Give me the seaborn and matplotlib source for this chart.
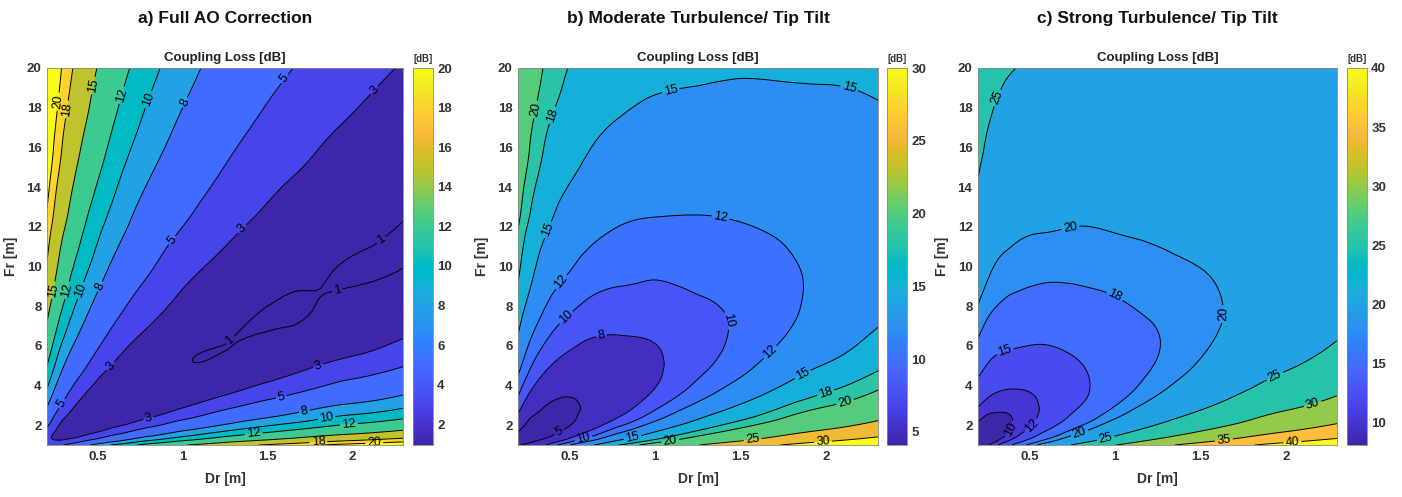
import numpy as np
import matplotlib
matplotlib.use("Agg")
import matplotlib.pyplot as plt
import matplotlib.tri as mtri
import seaborn as sns
from matplotlib.colors import LinearSegmentedColormap, Normalize
from matplotlib.cm import ScalarMappable

# ---------------- data ----------------
DR = [0.2, 0.25, 0.3, 0.4, 0.5, 0.6, 0.8, 1.0, 1.25, 1.5, 1.75, 2.0, 2.3]
FR = [1, 1.25, 1.5, 2, 2.5, 3, 4, 5, 6, 8, 10, 12, 14, 16, 18, 20]

# rows follow FR, columns follow DR (coupling loss in dB)
LOSS_A = [
    [4.2, 4.4, 5.0, 6.9, 8.8, 10.3, 12.8, 14.8, 16.7, 18.3, 19.6, 20.8, 22.0],
    [3.5, 3.0, 3.1, 4.2, 5.7, 7.2, 9.7, 11.6, 13.6, 15.1, 16.5, 17.7, 18.9],
    [3.8, 2.7, 2.4, 2.7, 3.8, 5.1, 7.5, 9.4, 11.4, 12.9, 14.3, 15.4, 16.7],
    [5.4, 3.6, 2.4, 1.8, 1.9, 2.6, 4.4, 6.3, 8.2, 9.8, 11.1, 12.3, 13.5],
    [7.0, 4.8, 3.4, 1.9, 1.5, 1.5, 2.6, 4.1, 6.0, 7.5, 8.9, 10.1, 11.3],
    [8.2, 6.1, 4.5, 2.5, 1.6, 1.3, 1.6, 2.7, 4.3, 5.8, 7.2, 8.3, 9.5],
    [10.3, 8.1, 6.4, 4.1, 2.6, 1.8, 1.3, 1.45, 2.2, 3.3, 4.5, 5.7, 6.9],
    [12.0, 9.8, 8.0, 5.7, 3.9, 2.8, 1.55, 1.07, 1.22, 1.9, 2.8, 3.7, 4.9],
    [13.5, 11.2, 9.4, 7.0, 5.2, 3.8, 2.2, 1.33, 0.995, 1.22, 1.7, 2.4, 3.4],
    [15.9, 13.6, 11.8, 9.2, 7.3, 5.8, 3.8, 2.5, 1.5, 1.0, 0.975, 1.2, 1.7],
    [17.8, 15.5, 13.6, 11.0, 9.1, 7.5, 5.3, 3.7, 2.5, 1.6, 1.15, 0.95, 0.985],
    [19.3, 17.0, 15.2, 12.5, 10.5, 9.0, 6.6, 5.0, 3.5, 2.5, 1.7, 1.3, 0.97],
    [20.7, 18.3, 16.5, 13.8, 11.8, 10.2, 7.8, 6.1, 4.5, 3.3, 2.5, 1.8, 1.3],
    [21.8, 19.5, 17.6, 15.0, 13.0, 11.3, 8.9, 7.1, 5.4, 4.1, 3.2, 2.4, 1.8],
    [22.8, 20.5, 18.6, 16.0, 14.0, 12.3, 9.8, 8.0, 6.3, 4.9, 3.9, 3.1, 2.3],
    [23.7, 21.4, 19.5, 16.9, 14.9, 13.2, 10.7, 8.8, 7.1, 5.7, 4.6, 3.7, 2.9],
]

LOSS_B = [
    [4.9, 5.5, 6.5, 9.1, 11.9, 14.2, 18.2, 21.5, 24.9, 27.7, 30.2, 32.3, 34.6],
    [4.3, 4.1, 4.6, 6.4, 8.8, 11.1, 15.1, 18.3, 21.8, 24.5, 27.1, 29.2, 31.5],
    [4.6, 3.8, 3.9, 4.9, 6.9, 9.0, 12.9, 16.1, 19.6, 22.3, 24.9, 26.9, 29.3],
    [6.2, 4.7, 3.9, 4.0, 4.9, 6.5, 9.8, 13.0, 16.4, 19.2, 21.7, 23.8, 26.1],
    [7.8, 5.9, 4.9, 4.1, 4.6, 5.4, 7.9, 10.8, 14.2, 16.9, 19.5, 21.6, 23.9],
    [9.0, 7.2, 6.0, 4.7, 4.7, 5.2, 7.0, 9.4, 12.5, 15.2, 17.8, 19.8, 22.1],
    [11.1, 9.2, 7.9, 6.3, 5.7, 5.7, 6.5, 7.9, 10.4, 12.7, 15.1, 17.2, 19.5],
    [12.8, 10.9, 9.5, 7.9, 7.0, 6.7, 6.9, 7.7, 9.4, 11.3, 13.4, 15.2, 17.5],
    [14.3, 12.3, 10.9, 9.2, 8.3, 7.7, 7.6, 7.95, 9.1, 10.6, 12.3, 13.9, 16.0],
    [16.7, 14.7, 13.3, 11.4, 10.4, 9.7, 9.2, 9.2, 9.7, 10.4, 11.5, 12.7, 14.2],
    [18.6, 16.6, 15.1, 13.2, 12.2, 11.4, 10.7, 10.4, 10.7, 11.0, 11.7, 12.5, 13.6],
    [20.1, 18.1, 16.7, 14.7, 13.6, 12.9, 11.95, 11.7, 11.7, 11.9, 12.3, 12.8, 13.6],
    [21.5, 19.4, 18.0, 16.0, 14.9, 14.1, 13.2, 12.8, 12.7, 12.7, 13.1, 13.3, 13.9],
    [22.6, 20.6, 19.1, 17.2, 16.1, 15.2, 14.3, 13.8, 13.6, 13.5, 13.8, 13.9, 14.4],
    [23.6, 21.6, 20.1, 18.2, 17.1, 16.2, 15.2, 14.7, 14.5, 14.3, 14.5, 14.6, 14.9],
    [24.5, 22.5, 21.0, 19.1, 17.9, 17.1, 16.1, 15.6, 15.4, 15.3, 15.3, 15.3, 15.5],
]

LOSS_C = [
    [8.2, 9.6, 11.3, 15.1, 18.6, 21.5, 26.2, 29.9, 33.7, 36.7, 39.3, 41.6, 43.9],
    [7.5, 8.2, 9.4, 12.4, 15.5, 18.4, 23.1, 26.8, 30.6, 33.5, 36.2, 38.5, 40.8],
    [7.8, 7.9, 8.7, 10.9, 13.6, 16.3, 20.9, 24.6, 28.4, 31.3, 34.0, 36.2, 38.6],
    [9.4, 8.8, 8.7, 9.98, 11.7, 13.8, 17.8, 21.5, 25.2, 28.2, 30.8, 33.1, 35.4],
    [11.0, 9.96, 9.7, 10.1, 11.3, 12.7, 16.0, 19.3, 23.0, 25.9, 28.6, 30.9, 33.2],
    [12.2, 11.3, 10.8, 10.7, 11.4, 12.5, 14.98, 17.9, 21.3, 24.2, 26.9, 29.1, 31.4],
    [14.3, 13.3, 12.7, 12.3, 12.4, 12.95, 14.5, 16.5, 19.2, 21.7, 24.2, 26.5, 28.8],
    [16.0, 14.96, 14.3, 13.9, 13.7, 13.95, 14.9, 16.2, 18.2, 20.3, 22.5, 24.5, 26.8],
    [17.5, 16.4, 15.7, 15.2, 14.98, 14.95, 15.6, 16.5, 17.9, 19.6, 21.4, 23.2, 25.3],
    [19.9, 18.8, 18.1, 17.4, 17.1, 16.95, 17.2, 17.7, 18.5, 19.4, 20.6, 21.9, 23.5],
    [21.8, 20.7, 19.9, 19.2, 18.9, 18.7, 18.7, 18.9, 19.5, 20.03, 20.8, 21.7, 22.9],
    [23.3, 22.2, 21.5, 20.7, 20.3, 20.2, 19.98, 20.2, 20.5, 20.9, 21.4, 22.1, 22.9],
    [24.7, 23.5, 22.8, 21.98, 21.6, 21.4, 21.2, 21.3, 21.5, 21.7, 22.2, 22.6, 23.2],
    [25.8, 24.7, 23.9, 23.2, 22.8, 22.5, 22.3, 22.3, 22.4, 22.5, 22.9, 23.2, 23.7],
    [26.8, 25.7, 24.9, 24.2, 23.8, 23.5, 23.2, 23.2, 23.3, 23.3, 23.6, 23.9, 24.2],
    [27.7, 26.6, 25.8, 25.1, 24.7, 24.4, 24.1, 23.95, 24.1, 24.1, 24.3, 24.5, 24.8],
]

LEVELS_A = [1, 3, 5, 8, 10, 12, 15, 18, 20]
LEVELS_B = [5, 8, 10, 12, 15, 18, 20, 25, 30]
LEVELS_C = [10, 12, 15, 18, 20, 25, 30, 35, 40]

CLIM_A = (0.95, 20)
CLIM_B = (4.1, 30)
CLIM_C = (8.1, 40)

CTICKS_A = [2, 4, 6, 8, 10, 12, 14, 16, 18, 20]
CTICKS_B = [5, 10, 15, 20, 25, 30]
CTICKS_C = [10, 15, 20, 25, 30, 35, 40]

XTICKS = [0.5, 1, 1.5, 2]
YTICKS = [2, 4, 6, 8, 10, 12, 14, 16, 18, 20]

TITLES = ["a) Full AO Correction",
          "b) Moderate Turbulence/ Tip Tilt",
          "c) Strong Turbulence/ Tip Tilt"]
SUBTITLE = "Coupling Loss [dB]"
XLABEL = "Dr [m]"
YLABEL = "Fr [m]"
CBAR_UNIT = "[dB]"

# where the inline contour labels sit (layout only, in Dr/Fr units)
LABEL_AT_A = [(0.27, 18.3), (0.325, 17.9), (0.48, 19.1), (0.65, 18.6), (0.80, 18.4),
              (1.03, 18.2), (1.61, 19.4), (2.13, 18.9), (0.94, 11.3), (1.35, 11.9),
              (0.237, 8.8), (0.315, 8.8), (0.393, 8.8), (0.51, 9.0), (0.276, 3.15),
              (0.57, 5.0), (1.27, 6.4), (1.92, 8.2), (2.16, 11.5), (0.80, 2.3),
              (1.80, 5.0), (1.58, 3.5), (1.72, 2.65), (1.85, 2.35), (1.98, 2.1),
              (1.42, 1.5), (1.80, 1.25), (2.13, 1.1)]
LABEL_AT_B = [(0.31, 17.9), (0.406, 17.6), (1.09, 18.9), (2.12, 18.6), (0.387, 11.8),
              (1.38, 12.4), (0.455, 9.2), (0.484, 7.4), (1.39, 7.2), (0.69, 6.3),
              (1.68, 5.6), (1.87, 4.4), (2.0, 3.5), (2.11, 3.1), (0.445, 1.56),
              (0.58, 1.4), (0.87, 1.25), (1.09, 1.1), (1.57, 1.15), (1.98, 1.1)]
LABEL_AT_C = [(0.31, 18.5), (0.74, 12.0), (1.0, 8.5), (0.36, 5.7), (1.59, 7.6),
              (1.94, 4.4), (2.16, 3.0), (1.64, 1.15), (2.04, 1.1), (0.39, 1.8),
              (0.51, 2.0), (0.79, 1.7), (0.95, 1.25)]

# ---------------- parula colormap ----------------
PARULA_RGB = [
    (0.2422, 0.1504, 0.6603), (0.2504, 0.1650, 0.7076), (0.2578, 0.1818, 0.7511),
    (0.2647, 0.1978, 0.7952), (0.2706, 0.2147, 0.8364), (0.2751, 0.2342, 0.8710),
    (0.2783, 0.2559, 0.8991), (0.2803, 0.2782, 0.9221), (0.2813, 0.3006, 0.9414),
    (0.2810, 0.3228, 0.9579), (0.2795, 0.3447, 0.9717), (0.2760, 0.3667, 0.9829),
    (0.2699, 0.3892, 0.9906), (0.2602, 0.4123, 0.9952), (0.2440, 0.4358, 0.9988),
    (0.2206, 0.4603, 0.9973), (0.1963, 0.4847, 0.9892), (0.1834, 0.5074, 0.9798),
    (0.1786, 0.5289, 0.9682), (0.1764, 0.5499, 0.9520), (0.1687, 0.5703, 0.9359),
    (0.1540, 0.5902, 0.9218), (0.1460, 0.6091, 0.9079), (0.1380, 0.6276, 0.8973),
    (0.1248, 0.6459, 0.8883), (0.1113, 0.6635, 0.8763), (0.0952, 0.6798, 0.8598),
    (0.0689, 0.6948, 0.8394), (0.0297, 0.7082, 0.8163), (0.0036, 0.7203, 0.7917),
    (0.0067, 0.7312, 0.7660), (0.0433, 0.7411, 0.7394), (0.0964, 0.7500, 0.7120),
    (0.1408, 0.7584, 0.6842), (0.1717, 0.7670, 0.6554), (0.1938, 0.7758, 0.6251),
    (0.2161, 0.7843, 0.5923), (0.2470, 0.7918, 0.5567), (0.2906, 0.7973, 0.5188),
    (0.3406, 0.8008, 0.4789), (0.3909, 0.8029, 0.4354), (0.4456, 0.8024, 0.3909),
    (0.5044, 0.7993, 0.3480), (0.5616, 0.7942, 0.3045), (0.6174, 0.7876, 0.2612),
    (0.6720, 0.7793, 0.2227), (0.7242, 0.7698, 0.1910), (0.7738, 0.7598, 0.1646),
    (0.8203, 0.7498, 0.1535), (0.8634, 0.7406, 0.1596), (0.9035, 0.7330, 0.1774),
    (0.9393, 0.7288, 0.2100), (0.9728, 0.7298, 0.2394), (0.9956, 0.7434, 0.2371),
    (0.9970, 0.7659, 0.2199), (0.9952, 0.7893, 0.2028), (0.9892, 0.8136, 0.1885),
    (0.9786, 0.8386, 0.1766), (0.9676, 0.8639, 0.1643), (0.9610, 0.8890, 0.1537),
    (0.9597, 0.9135, 0.1423), (0.9628, 0.9373, 0.1265), (0.9691, 0.9606, 0.1064),
    (0.9769, 0.9839, 0.0805),
]
PARULA = LinearSegmentedColormap.from_list("parula", PARULA_RGB, N=256)

# ---------------- styling ----------------
sns.set_theme(style="white")
plt.rcParams["font.family"] = ["Liberation Sans", "DejaVu Sans"]
TXT = "#333333"

W, H = 1402, 497
fig = plt.figure(figsize=(W / 100, H / 100), dpi=100)

def fx(px):
    return px / W

def fy(py):
    return 1 - py / H

# smooth rendering of the gridded values through matplotlib's own tri tools
GX, GY = np.meshgrid(DR, FR)
TRI = mtri.Triangulation(GX.ravel(), GY.ravel())
REFINER = mtri.UniformTriRefiner(TRI)

AX_TOP, AX_BOT = 68, 445
PANELS = [
    dict(x0=47, x1=403, cb0=413, cb1=433, Z=LOSS_A, lev=LEVELS_A, clim=CLIM_A, ct=CTICKS_A, lab=LABEL_AT_A),
    dict(x0=518, x1=878, cb0=887, cb1=907, Z=LOSS_B, lev=LEVELS_B, clim=CLIM_B, ct=CTICKS_B, lab=LABEL_AT_B),
    dict(x0=978, x1=1337, cb0=1347, cb1=1367, Z=LOSS_C, lev=LEVELS_C, clim=CLIM_C, ct=CTICKS_C, lab=LABEL_AT_C),
]

for i, p in enumerate(PANELS):
    ax = fig.add_axes([fx(p["x0"]), fy(AX_BOT), (p["x1"] - p["x0"]) / W, (AX_BOT - AX_TOP) / H])
    cax = fig.add_axes([fx(p["cb0"]), fy(AX_BOT), (p["cb1"] - p["cb0"]) / W, (AX_BOT - AX_TOP) / H])

    Z = np.array(p["Z"], dtype=float)
    z = Z.ravel()
    interp = mtri.CubicTriInterpolator(TRI, z, kind="min_E")
    tri_f, z_f = REFINER.refine_field(z, triinterpolator=interp, subdiv=3)

    lev = p["lev"]
    vmin, vmax = p["clim"]
    norm = Normalize(vmin=vmin, vmax=vmax)
    bounds = [min(z_f.min(), vmin) - 1] + lev + [max(z_f.max(), lev[-1]) + 1]
    lowers = [vmin] + lev
    fills = [PARULA(norm(v)) for v in lowers]

    ax.set_xlim(0.2, 2.3)
    ax.set_ylim(1, 20)
    ax.tricontourf(tri_f, z_f, levels=bounds, colors=fills)
    cs = ax.tricontour(tri_f, z_f, levels=lev, colors="black", linewidths=0.7)
    ax.clabel(cs, fmt="%g", fontsize=9, inline=True, inline_spacing=2, manual=p["lab"])

    ax.set_xticks(XTICKS)
    ax.set_xticklabels(["0.5", "1", "1.5", "2"])
    ax.set_yticks(YTICKS)
    ax.tick_params(direction="in", top=True, right=True, length=4, width=0.6,
                   color="#555555", labelsize=9.5, labelcolor=TXT, pad=4)
    for lab in ax.get_xticklabels() + ax.get_yticklabels():
        lab.set_fontweight("bold")
    for s in ax.spines.values():
        s.set_color("#888888")
        s.set_linewidth(0.6)
    ax.set_xlabel(XLABEL, fontsize=10, fontweight="bold", color=TXT, labelpad=7)
    ax.set_ylabel(YLABEL, fontsize=10, fontweight="bold", color=TXT, labelpad=6)
    ax.set_title(SUBTITLE, fontsize=9.5, fontweight="bold", color="#222222", pad=5)

    sm = ScalarMappable(norm=norm, cmap=PARULA)
    cb = fig.colorbar(sm, cax=cax, ticks=p["ct"])
    cb.outline.set_edgecolor("#888888")
    cb.outline.set_linewidth(0.6)
    cax.tick_params(direction="in", length=3, width=0.6, color="#555555",
                    labelsize=9.5, labelcolor=TXT, pad=3)
    for lab in cax.get_yticklabels():
        lab.set_fontweight("bold")
    cax.set_title(CBAR_UNIT, fontsize=7, fontweight="bold", color=TXT, pad=4)

    fig.text(fx((p["x0"] + p["x1"]) / 2), fy(19), TITLES[i], ha="center", va="center",
             fontsize=12.5, fontweight="bold", color="#111111")

fig.savefig("out.png", dpi=100)
